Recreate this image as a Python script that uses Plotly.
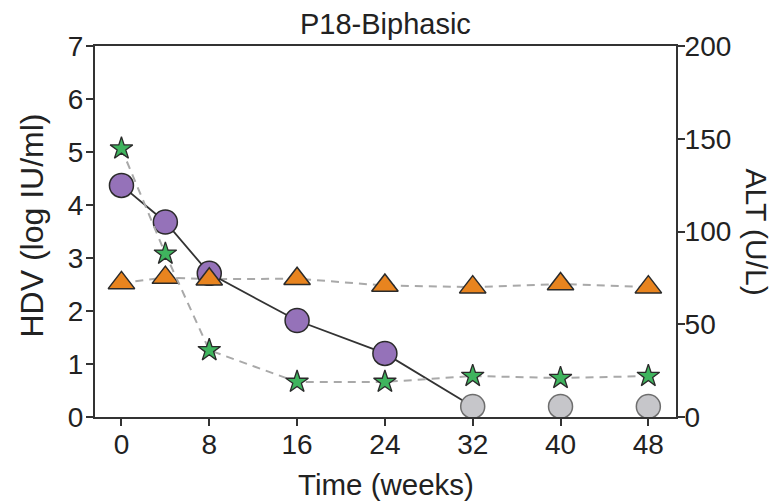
import plotly.graph_objects as go

# Study visits (weeks)
weeks = [0, 4, 8, 16, 24, 32, 40, 48]

# HDV RNA (log IU/ml), last three below limit of quantification
hdv = [4.37, 3.68, 2.71, 1.82, 1.20, 0.20, 0.20, 0.20]
hdv_detected = [True, True, True, True, True, False, False, False]

# second marker (left axis)
tri = [2.53, 2.63, 2.60, 2.61, 2.48, 2.45, 2.51, 2.45]

# ALT (U/L), right axis
alt = [144.7, 88.0, 36.0, 18.9, 18.9, 22.1, 21.0, 22.1]

x_ticks = [0, 8, 16, 24, 32, 40, 48]
left_ticks = [0, 1, 2, 3, 4, 5, 6, 7]
right_ticks = [0, 50, 100, 150, 200]

FONT = "Liberation Sans, Arial, sans-serif"
TXT = "#222222"
AXIS = "#333333"
DASH_GREY = "#a9a9a9"

fig = go.Figure()

# dashed connectors
fig.add_trace(go.Scatter(
    x=weeks, y=tri, mode="lines",
    line=dict(color=DASH_GREY, width=2, dash="8px,6px"),
    hoverinfo="skip", showlegend=False))
fig.add_trace(go.Scatter(
    x=weeks, y=alt, mode="lines", yaxis="y2",
    line=dict(color=DASH_GREY, width=2, dash="8px,6px"),
    hoverinfo="skip", showlegend=False))

# HDV solid line up to the first undetectable point
n_line = hdv_detected.index(False) + 1
fig.add_trace(go.Scatter(
    x=weeks[:n_line], y=hdv[:n_line], mode="lines",
    line=dict(color="#333333", width=1.8),
    hoverinfo="skip", showlegend=False))

# HDV markers (purple = detected, grey = below LOQ)
fig.add_trace(go.Scatter(
    x=weeks, y=hdv, mode="markers", name="HDV",
    marker=dict(
        symbol="circle", size=24,
        color=["#9572b9" if d else "#c6c6ca" for d in hdv_detected],
        line=dict(color=["#2a2a2a" if d else "#6e6e6e" for d in hdv_detected],
                  width=1.5)),
    showlegend=False))

fig.add_trace(go.Scatter(
    x=weeks, y=tri, mode="markers",
    marker=dict(symbol="triangle-up", size=23, color="#e8841f",
                line=dict(color="#2a2a2a", width=1.5)),
    showlegend=False))

fig.add_trace(go.Scatter(
    x=weeks, y=alt, mode="markers", yaxis="y2", name="ALT",
    marker=dict(symbol="star", size=17, color="#3fb45e",
                line=dict(color="#2a2a2a", width=1.3)),
    showlegend=False))

# page body has an 8px margin, so the figure is 8px smaller than the window
fig.update_layout(
    width=770, height=493,
    margin=dict(l=86.5, r=102, t=37.7, b=84.3),
    paper_bgcolor="white", plot_bgcolor="white",
    font=dict(family=FONT, size=28, color=TXT),
    xaxis=dict(
        range=[-2.41, 50.52], tickmode="array", tickvals=x_ticks,
        showline=True, linecolor=AXIS, linewidth=2, mirror=True,
        ticks="outside", ticklen=7, tickwidth=2, tickcolor=AXIS,
        ticklabelstandoff=-6,
        showgrid=False, zeroline=False,
        tickfont=dict(size=28, color=TXT)),
    yaxis=dict(
        range=[0, 7], tickmode="array", tickvals=left_ticks,
        showline=True, linecolor=AXIS, linewidth=2,
        ticks="outside", ticklen=7, tickwidth=2, tickcolor=AXIS,
        ticklabelstandoff=-3,
        showgrid=False, zeroline=False,
        tickfont=dict(size=28, color=TXT)),
    yaxis2=dict(
        range=[0, 200], tickmode="array", tickvals=right_ticks,
        overlaying="y", side="right",
        showline=True, linecolor=AXIS, linewidth=2,
        ticks="outside", ticklen=7, tickwidth=2, tickcolor=AXIS,
        ticklabelstandoff=-6,
        showgrid=False, zeroline=False,
        tickfont=dict(size=28, color=TXT)),
    showlegend=False,
)

# title and axis titles
fig.add_annotation(text="P18-Biphasic", xref="paper", yref="paper",
                   x=0.5, y=1.0, yshift=22, xanchor="center", yanchor="middle",
                   showarrow=False, font=dict(size=29, color=TXT))
fig.add_annotation(text="Time (weeks)", xref="paper", yref="paper",
                   x=0.5, y=0, yshift=-67, xanchor="center", yanchor="middle",
                   showarrow=False, font=dict(size=29.5, color=TXT))
fig.add_annotation(text="HDV (log IU/ml)", xref="paper", yref="paper",
                   x=0, xshift=-64, y=0.5, yshift=6, textangle=-90,
                   xanchor="center", yanchor="middle",
                   showarrow=False, font=dict(size=32, color=TXT))
fig.add_annotation(text="ALT (U/L)", xref="paper", yref="paper",
                   x=1, xshift=80, y=0.5, textangle=90,
                   xanchor="center", yanchor="middle",
                   showarrow=False, font=dict(size=30, color=TXT))

fig.write_html("out.html")
